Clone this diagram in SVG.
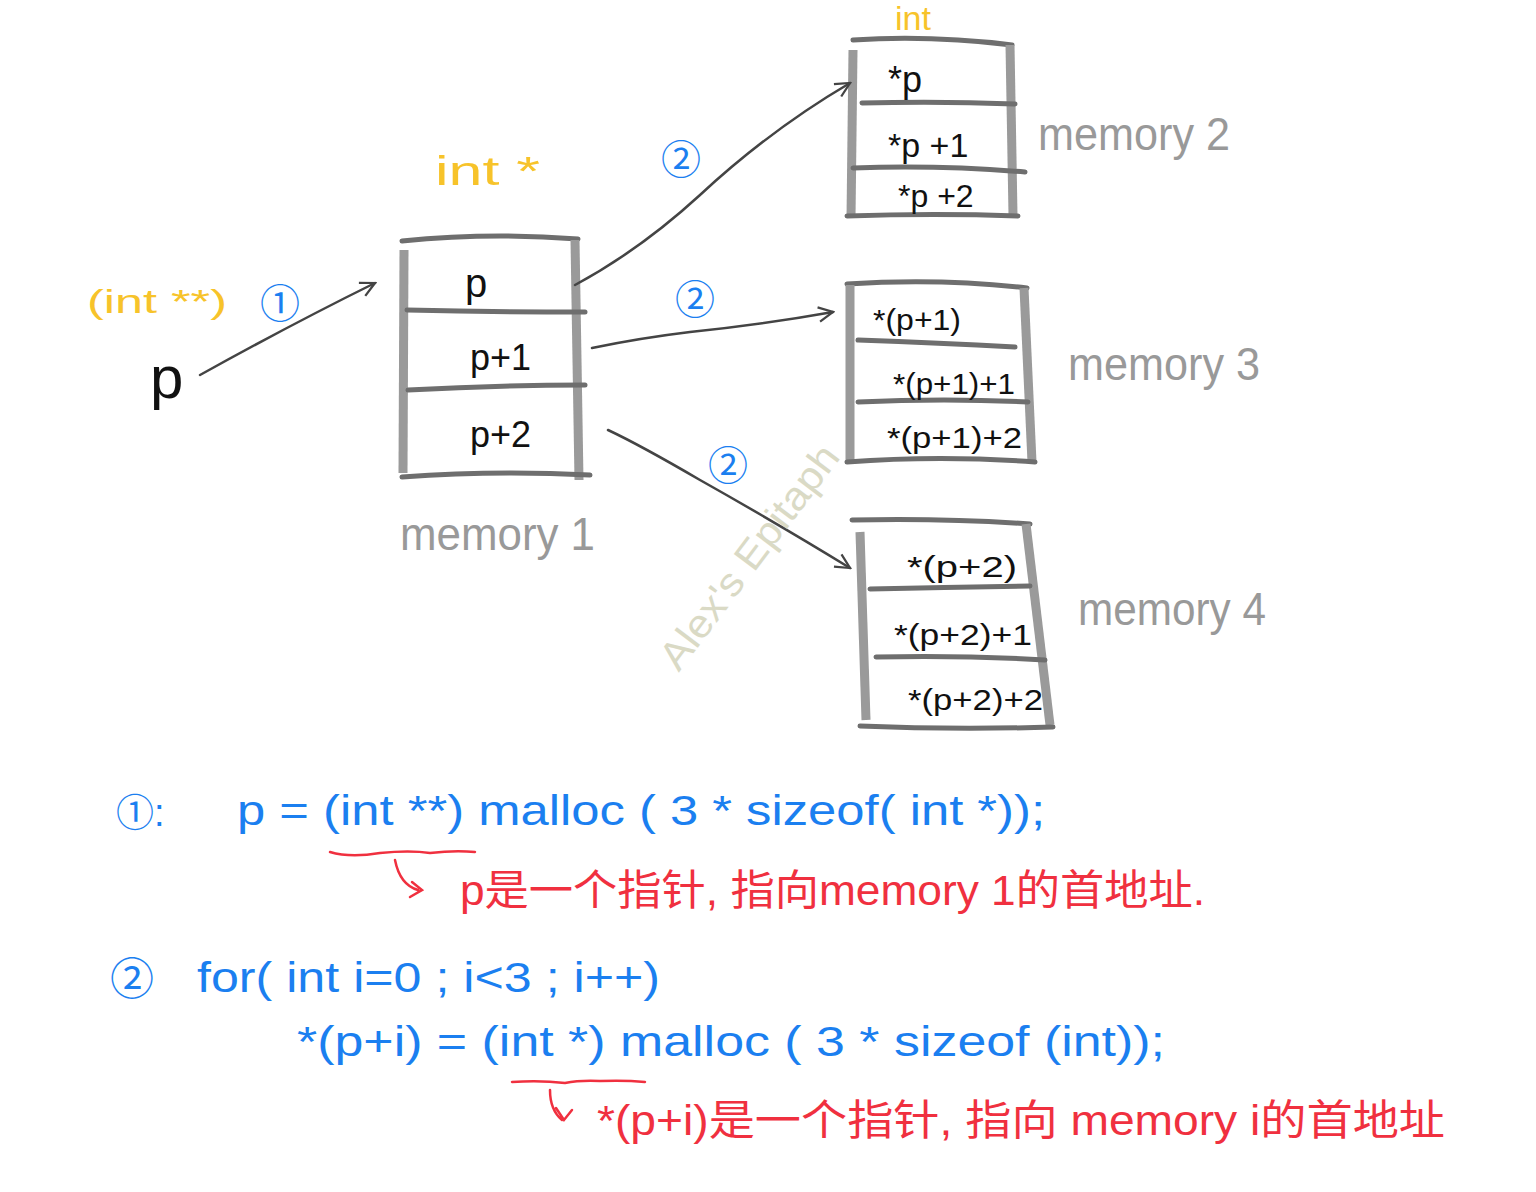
<svg xmlns="http://www.w3.org/2000/svg" width="1536" height="1192" viewBox="0 0 1536 1192">
<defs>
<style>
.h{fill:none;stroke:#6e6e6e;stroke-width:5;stroke-linecap:round}
.v{fill:none;stroke:#9a9a9a;stroke-width:9;stroke-linecap:butt}
.c{fill:none;stroke:#444;stroke-width:2.5;stroke-linecap:round}
.t{font-family:"Liberation Sans","Noto Sans CJK SC",sans-serif;fill:#111}
.y{font-family:"Liberation Sans",sans-serif;fill:#f7c32a}
.g{font-family:"Liberation Sans",sans-serif;fill:#999}
.b{font-family:"Liberation Sans","Noto Sans CJK SC",sans-serif;fill:#1b7ff0}
.r{font-family:"Liberation Sans","Noto Sans CJK SC",sans-serif;fill:#f0303f}
.rl{fill:none;stroke:#f0303f;stroke-width:2.5;stroke-linecap:round}
</style>
<marker id="ah" viewBox="0 0 20 20" refX="18" refY="10" markerWidth="18" markerHeight="18" markerUnits="userSpaceOnUse" orient="auto">
<path d="M2 2 L18 10 L2 18" fill="none" stroke="#444" stroke-width="2.5"/>
</marker>
</defs>
<rect width="1536" height="1192" fill="#fff"/>

<g id="pointer-p">
<text class="y" x="87" y="313" font-size="34" textLength="140" lengthAdjust="spacingAndGlyphs">(int **)</text>
<text class="t" x="150" y="398" font-size="60">p</text>
</g>

<g id="memory1">
<text class="y" x="435" y="185" font-size="40" textLength="105" lengthAdjust="spacingAndGlyphs">int *</text>
<path class="h" d="M402 241 Q490 232 578 239"/>
<path class="v" d="M404 250 L403 473"/>
<path class="v" d="M575 240 L579 480"/>
<path class="h" d="M407 310 Q495 312 585 312"/>
<path class="h" d="M408 390 Q495 385 585 385"/>
<path class="h" d="M402 477 Q495 470 590 475"/>
<text class="t" x="465" y="297" font-size="40">p</text>
<text class="t" x="470" y="370" font-size="36">p+1</text>
<text class="t" x="470" y="447" font-size="36">p+2</text>
<text class="g" x="400" y="550" font-size="46" textLength="195" lengthAdjust="spacingAndGlyphs">memory 1</text>
</g>

<g id="memory2">
<text class="y" x="895" y="30" font-size="34">int</text>
<path class="h" d="M853 40 Q930 35 1012 45"/>
<path class="v" d="M853 50 L851 218"/>
<path class="v" d="M1010 45 L1013 215"/>
<path class="h" d="M862 103 Q940 101 1015 104"/>
<path class="h" d="M853 168 Q940 165 1025 172"/>
<path class="h" d="M847 216 Q935 213 1018 216"/>
<text class="t" x="888" y="92" font-size="36">*p</text>
<text class="t" x="888" y="157" font-size="34">*p +1</text>
<text class="t" x="898" y="207" font-size="32">*p +2</text>
<text class="g" x="1038" y="150" font-size="46" textLength="192" lengthAdjust="spacingAndGlyphs">memory 2</text>
</g>

<g id="memory3">
<path class="h" d="M847 284 Q940 278 1027 288"/>
<path class="v" d="M850 285 L850 460"/>
<path class="v" d="M1024 288 L1032 462"/>
<path class="h" d="M858 340 Q940 343 1015 347"/>
<path class="h" d="M858 402 Q945 398 1028 402"/>
<path class="h" d="M847 462 Q940 455 1035 462"/>
<text class="t" x="873" y="330" font-size="30" textLength="88" lengthAdjust="spacingAndGlyphs">*(p+1)</text>
<text class="t" x="893" y="394" font-size="30" textLength="122" lengthAdjust="spacingAndGlyphs">*(p+1)+1</text>
<text class="t" x="887" y="448" font-size="30" textLength="135" lengthAdjust="spacingAndGlyphs">*(p+1)+2</text>
<text class="g" x="1068" y="380" font-size="46" textLength="192" lengthAdjust="spacingAndGlyphs">memory 3</text>
</g>

<g id="memory4">
<path class="h" d="M852 520 Q945 518 1030 524"/>
<path class="v" d="M860 532 L866 720"/>
<path class="v" d="M1026 524 L1050 725"/>
<path class="h" d="M870 589 Q950 587 1030 586"/>
<path class="h" d="M876 657 Q960 655 1045 660"/>
<path class="h" d="M860 726 Q955 730 1053 727"/>
<text class="t" x="907" y="577" font-size="30" textLength="110" lengthAdjust="spacingAndGlyphs">*(p+2)</text>
<text class="t" x="894" y="645" font-size="30" textLength="138" lengthAdjust="spacingAndGlyphs">*(p+2)+1</text>
<text class="t" x="908" y="710" font-size="30" textLength="135" lengthAdjust="spacingAndGlyphs">*(p+2)+2</text>
<text class="g" x="1078" y="625" font-size="46" textLength="188" lengthAdjust="spacingAndGlyphs">memory 4</text>
</g>

<g id="connectors">
<path class="c" d="M200 375 Q290 325 375 283" marker-end="url(#ah)"/>
<path class="c" d="M575 285 Q640 250 700 195 Q770 130 850 83" marker-end="url(#ah)"/>
<path class="c" d="M592 348 Q640 338 690 332 Q760 325 833 312" marker-end="url(#ah)"/>
<path class="c" d="M608 430 Q640 445 700 480 Q780 525 850 568" marker-end="url(#ah)"/>
<text class="b" x="260" y="318" font-size="40">①</text>
<text class="b" x="661" y="174" font-size="40">②</text>
<text class="b" x="675" y="314" font-size="40">②</text>
<text class="b" x="708" y="480" font-size="40">②</text>
</g>

<text x="760" y="565" font-family="Liberation Sans,sans-serif" font-size="40" fill="#d4d4bc" opacity="0.85" text-anchor="middle" textLength="270" lengthAdjust="spacingAndGlyphs" transform="rotate(-53 760 565)">Alex's Epitaph</text>

<g id="code1">
<text class="b" x="116" y="826" font-size="38">①:</text>
<text class="b" x="237" y="825" font-size="42" textLength="808" lengthAdjust="spacingAndGlyphs">p = (int **) malloc ( 3 * sizeof( int *));</text>
<path class="rl" d="M330 852 Q350 858 380 853 Q410 850 430 853 Q455 850 475 852"/>
<path class="rl" d="M395 860 Q400 885 418 890 M412 882 L422 890 L410 897"/>
<text class="r" x="460" y="905" font-size="42" textLength="745" lengthAdjust="spacingAndGlyphs">p是一个指针, 指向memory 1的首地址.</text>
</g>

<g id="code2">
<text class="b" x="110" y="995" font-size="44">②</text>
<text class="b" x="197" y="992" font-size="42" textLength="463" lengthAdjust="spacingAndGlyphs">for( int  i=0 ;  i&lt;3 ; i++)</text>
<text class="b" x="297" y="1056" font-size="42" textLength="868" lengthAdjust="spacingAndGlyphs">*(p+i) = (int *) malloc ( 3 * sizeof (int));</text>
<path class="rl" d="M512 1082 Q540 1080 565 1083 Q580 1080 600 1081 Q625 1080 645 1082"/>
<path class="rl" d="M550 1090 Q550 1110 562 1120 M556 1108 L564 1120 L572 1110"/>
<text class="r" x="597" y="1135" font-size="42" textLength="848" lengthAdjust="spacingAndGlyphs">*(p+i)是一个指针, 指向 memory i的首地址</text>
</g>
</svg>
